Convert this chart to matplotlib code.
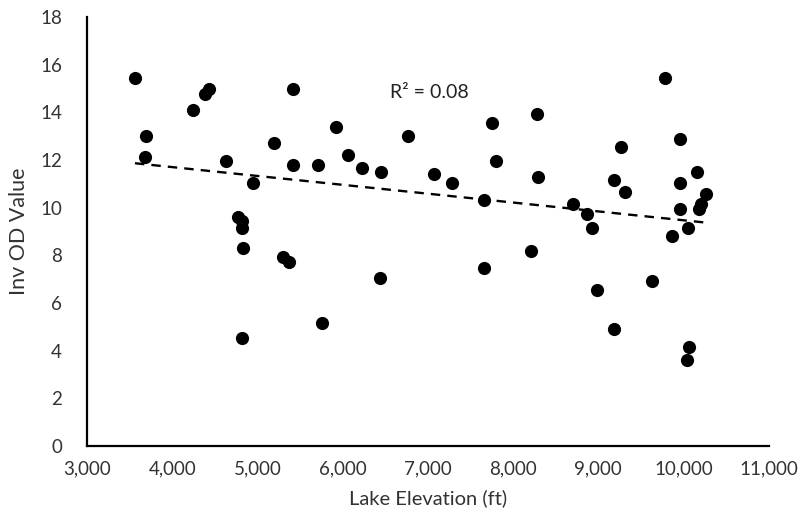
import numpy as np
import matplotlib
matplotlib.use("Agg")
import matplotlib.pyplot as plt
from matplotlib.ticker import FuncFormatter

plt.rcParams['font.family'] = ['Lato', 'DejaVu Sans']

elevation = [3563, 3692, 3680, 4247, 4384, 4435, 4627, 5420, 5197, 5420,
             5706, 5917, 6066, 6222, 4951, 4775, 4822, 4815, 4834, 6449,
             6762, 7074, 7286, 7755, 7794, 7661, 8279, 8294, 8698, 8862,
             8928, 9272, 9182, 9315, 9780, 9960, 9960, 9960, 10159, 10261,
             10202, 10187, 10054, 9859, 6437, 7661, 8208, 8986, 9631, 9182,
             10065, 10035, 5303, 5370, 5757, 4822]
inv_od = [15.46, 13.02, 12.13, 14.10, 14.76, 14.97, 11.95, 14.97, 12.70, 11.79,
          11.79, 13.40, 12.21, 11.68, 11.05, 9.59, 9.44, 9.16, 8.30, 11.51,
          13.02, 11.41, 11.04, 13.57, 11.95, 10.32, 13.93, 11.30, 10.14, 9.75,
          9.13, 12.55, 11.15, 10.66, 15.44, 12.87, 11.04, 9.95, 11.51, 10.56,
          10.16, 9.95, 9.15, 8.83, 7.06, 7.48, 8.18, 6.56, 6.94, 4.90,
          4.15, 3.61, 7.92, 7.74, 5.17, 4.52]
r2_label = "R² = 0.08"
x_ticks = list(range(3000, 11001, 1000))
y_ticks = list(range(0, 19, 2))

x = np.array(elevation, dtype=float)
y = np.array(inv_od, dtype=float)

fig = plt.figure(figsize=(8.05, 5.31), dpi=100)
ax = fig.add_axes([0.108, 0.160, 0.847, 0.808])

ax.scatter(x, y, s=90, color='black', zorder=3, linewidths=0)

slope, intercept = np.polyfit(x, y, 1)
xs = np.array([x.min(), x.max()])
ax.plot(xs, slope * xs + intercept, color='black', linestyle=(0, (4, 3)), linewidth=1.7, zorder=2)

ax.text(6555, 14.85, r2_label, fontsize=14, va='center', ha='left', color='#222222')

ax.set_xlim(3000, 11000)
ax.set_ylim(0, 18)
ax.set_xticks(x_ticks)
ax.set_yticks(y_ticks)
ax.xaxis.set_major_formatter(FuncFormatter(lambda v, p: f"{int(v):,}"))
ax.tick_params(axis='both', length=0, labelsize=13.5, colors='#333333', pad=10)
ax.tick_params(axis='y', pad=18)

for s in ['top', 'right']:
    ax.spines[s].set_visible(False)
for s in ['left', 'bottom']:
    ax.spines[s].set_color('black')
    ax.spines[s].set_linewidth(1.6)

ax.set_xlabel("Lake Elevation (ft)", fontsize=14.5, color='#333333', labelpad=9)
ax.set_ylabel("Inv OD Value", fontsize=15.5, color='#333333', labelpad=8)

fig.savefig("out.png", dpi=100)
